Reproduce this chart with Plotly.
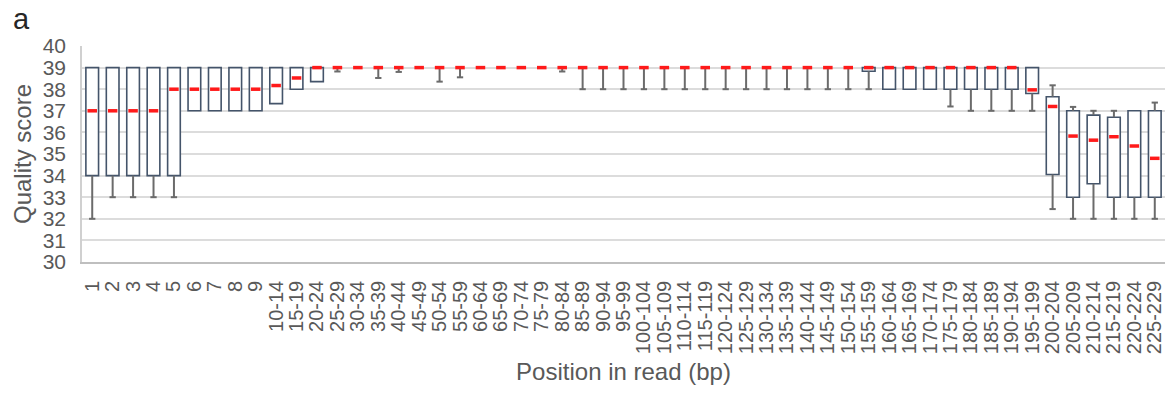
import plotly.graph_objects as go

categories = [str(i) for i in range(1, 10)] + [f"{s}-{s+4}" for s in range(10, 230, 5)]

whisker_low = [32, 33, 33, 33, 33, 37, 37, 37, 37,
               37.33, 38, 38.35, 38.82, 39, 38.52, 38.8, 39, 38.35, 38.55,
               39, 39, 39, 39, 38.82,
               38, 38, 38, 38, 38, 38, 38, 38, 38, 38, 38, 38, 38, 38,
               38, 38, 38, 38, 37.2, 37, 37, 37, 37,
               32.45, 32, 32, 32, 32, 32]
q1 = [34, 34, 34, 34, 34, 37, 37, 37, 37,
      37.33, 38, 38.35, 39, 39, 39, 39, 39, 39, 39,
      39, 39, 39, 39, 39,
      39, 39, 39, 39, 39, 39, 39, 39, 39, 39, 39, 39, 39, 39,
      38.83, 38, 38, 38, 38, 38, 38, 38, 37.8,
      34.05, 33, 33.62, 33, 33, 33]
median = [37, 37, 37, 37, 38, 38, 38, 38, 38,
          38.17, 38.52, 39, 39, 39, 39, 39, 39, 39, 39,
          39, 39, 39, 39, 39,
          39, 39, 39, 39, 39, 39, 39, 39, 39, 39, 39, 39, 39, 39,
          39, 39, 39, 39, 39, 39, 39, 39, 37.97,
          37.2, 35.83, 35.64, 35.8, 35.37, 34.8]
q3 = [39] * 47 + [37.65, 37, 36.8, 36.7, 37, 37]
whisker_high = [39] * 47 + [38.18, 37.18, 37, 37, 37, 37.38]

BOX_LINE = "#44546a"
WHISK = "#6b6b6b"
RED = "#ff1a1a"
TXT = "#595959"

fig = go.Figure()

# boxes
heights = [(b - a) if (b - a) > 1e-9 else None for a, b in zip(q1, q3)]
fig.add_trace(go.Bar(
    x=categories, y=heights, base=q1, width=0.62,
    marker=dict(color="white", line=dict(color=BOX_LINE, width=1.6)),
    hoverinfo="skip", showlegend=False,
))

# whiskers
wx, wy = [], []
capx, capy = [], []
for c, lo, a, b, hi in zip(categories, whisker_low, q1, q3, whisker_high):
    if a - lo > 1e-9:
        wx += [c, c, None]
        wy += [a, lo, None]
        capx.append(c)
        capy.append(lo)
    if hi - b > 1e-9:
        wx += [c, c, None]
        wy += [b, hi, None]
        capx.append(c)
        capy.append(hi)
fig.add_trace(go.Scatter(
    x=wx, y=wy, mode="lines", line=dict(color=WHISK, width=2),
    hoverinfo="skip", showlegend=False, connectgaps=False,
))
fig.add_trace(go.Scatter(
    x=capx, y=capy, mode="markers",
    marker=dict(symbol="line-ew", size=4.5, line=dict(color=WHISK, width=2)),
    hoverinfo="skip", showlegend=False,
))

# medians
fig.add_trace(go.Scatter(
    x=categories, y=median, mode="markers",
    marker=dict(symbol="line-ew", size=6.8, line=dict(color=RED, width=3.5)),
    showlegend=False,
))

fig.update_layout(
    width=1173, height=396,
    margin=dict(l=82, r=8, t=46, b=134),
    paper_bgcolor="white", plot_bgcolor="white",
    font=dict(family="Liberation Sans, Arial, sans-serif", color=TXT),
    barmode="overlay",
)
fig.add_annotation(text="a", xref="paper", yref="paper", x=-0.066, y=1.125,
                   xanchor="left", yanchor="middle", showarrow=False,
                   font=dict(size=29, color="#262626"))

fig.update_xaxes(
    type="category", categoryorder="array", categoryarray=categories,
    tickmode="array", tickvals=categories, ticktext=categories,
    tickangle=-90, tickfont=dict(size=20, color=TXT),
    showline=True, linecolor="#bfbfbf", linewidth=1.5,
    showgrid=False, ticks="outside", ticklen=9, tickcolor="rgba(0,0,0,0)",
    title=dict(text="Position in read (bp)", font=dict(size=24, color=TXT), standoff=10),
    range=[-0.5, len(categories) - 0.5],
)
fig.update_yaxes(
    range=[30, 40], dtick=1, tick0=30,
    tickfont=dict(size=21, color=TXT),
    showgrid=True, gridcolor="#dcdcdc", gridwidth=1.5,
    showline=True, linecolor="#d0d0d0", linewidth=1.5,
    ticks="outside", ticklen=10, tickcolor="rgba(0,0,0,0)",
    zeroline=False,
    title=dict(text="Quality score", font=dict(size=24, color=TXT), standoff=4),
)

fig.write_html("out.html")
